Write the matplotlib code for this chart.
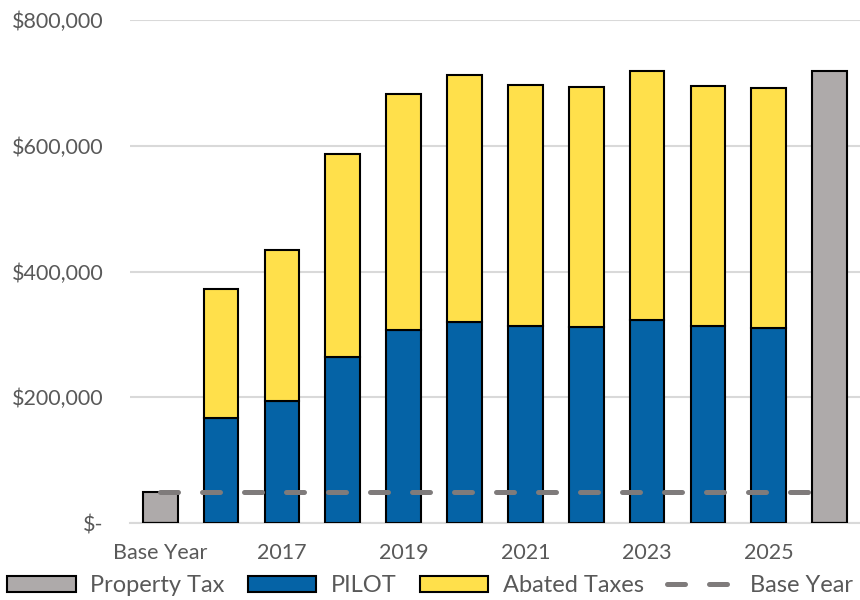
import numpy as np
import matplotlib
matplotlib.use("Agg")
import matplotlib.pyplot as plt
from matplotlib.ticker import FuncFormatter

categories = ["Base Year", "2016", "2017", "2018", "2019", "2020",
              "2021", "2022", "2023", "2024", "2025", "2026"]
property_tax = [49000, 0, 0, 0, 0, 0, 0, 0, 0, 0, 0, 719000]
pilot = [0, 167000, 194000, 264000, 307000, 320000,
         313000, 312000, 323000, 313000, 310000, 0]
abated = [0, 205000, 240000, 323000, 375000, 392000,
          384000, 381000, 396000, 382000, 382000, 0]
base_year = [49000] * len(categories)

plt.rcParams['font.family'] = ['Lato', 'DejaVu Sans']
text_color = "#595959"

fig = plt.figure(figsize=(8.6, 6), dpi=100)
ax = fig.add_axes([0.151, 0.128, 0.849, 0.839])

x = np.arange(len(categories))
w = 0.57
b1 = ax.bar(x, property_tax, w, color="#AEAAAA", edgecolor="black",
            linewidth=1.5, label="Property Tax", zorder=3)
b2 = ax.bar(x, pilot, w, color="#0563A6", edgecolor="black", linewidth=1.5,
            label="PILOT", zorder=3)
b3 = ax.bar(x, abated, w, bottom=pilot, color="#FFE04B", edgecolor="black",
            linewidth=1.5, label="Abated Taxes", zorder=3)
ln, = ax.plot(x, base_year, color="#7F7B7B", linewidth=3.6,
              dashes=(3.6, 4.8), dash_capstyle="round", label="Base Year",
              zorder=4)

ax.set_xlim(-0.5, len(categories) - 0.5)
ax.set_ylim(0, 800000)
ax.set_yticks(np.arange(0, 800001, 200000))
ax.yaxis.set_major_formatter(FuncFormatter(
    lambda v, p: "$-" if v == 0 else f"${v:,.0f}"))
ax.set_xticks(x[::2])
ax.set_xticklabels(categories[::2])
ax.grid(axis="y", color="#D9D9D9", linewidth=1.5, zorder=0)
for s in ["top", "right", "left"]:
    ax.spines[s].set_visible(False)
ax.spines["bottom"].set_color("#D9D9D9")
ax.spines["bottom"].set_linewidth(1.5)
ax.tick_params(axis="both", length=0, labelsize=15.5, colors=text_color)
ax.tick_params(axis="y", pad=19)
ax.tick_params(axis="x", pad=14)

leg = fig.legend([b1, b2, b3, ln],
                 ["Property Tax", "PILOT", "Abated Taxes", "Base Year"],
                 loc="center", bbox_to_anchor=(0.5, 1 - 586 / 600), ncol=4,
                 frameon=False, fontsize=17, handlelength=2.9,
                 handleheight=0.65, columnspacing=1.0, handletextpad=0.6,
                 borderpad=0, borderaxespad=0)
for t in leg.get_texts():
    t.set_color(text_color)

fig.savefig("out.png", dpi=100)
